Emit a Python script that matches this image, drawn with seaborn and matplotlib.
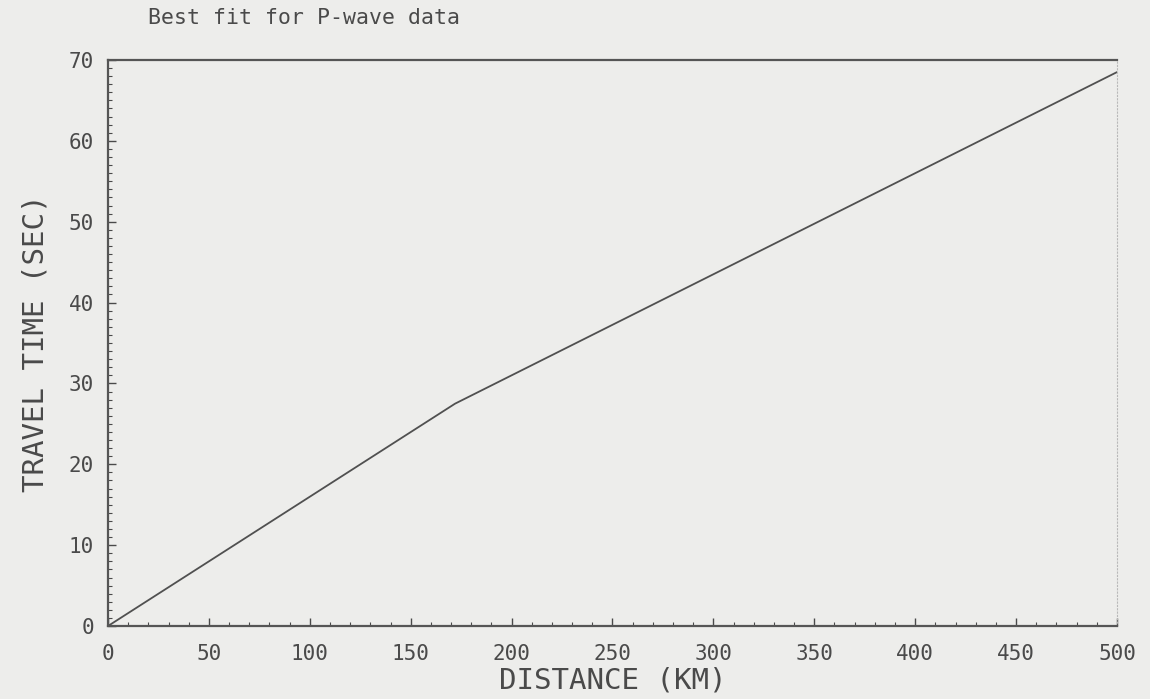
import matplotlib
matplotlib.use("Agg")
import matplotlib.pyplot as plt
import seaborn as sns
import pandas as pd
from matplotlib.ticker import MultipleLocator

distance_km = [0, 172, 500]
travel_time_sec = [0, 27.5, 68.5]
x_ticks = [0, 50, 100, 150, 200, 250, 300, 350, 400, 450, 500]
y_ticks = [0, 10, 20, 30, 40, 50, 60, 70]

sns.set_theme(style="white")
plt.rcParams['font.family'] = ['DejaVu Sans Mono', 'DejaVu Sans']

bg = "#ededeb"
ink = "#4a4a4a"

fig = plt.figure(figsize=(11.5, 6.99), dpi=100, facecolor=bg)
ax = fig.add_axes([0.0939, 0.1044, 0.8774, 0.8098])
ax.set_facecolor(bg)

df = pd.DataFrame({"d": distance_km, "t": travel_time_sec})
sns.lineplot(data=df, x="d", y="t", ax=ax, color="#505050", linewidth=1.3)

ax.set_xlim(0, 500)
ax.set_ylim(0, 70)
ax.set_xticks(x_ticks)
ax.set_yticks(y_ticks)
ax.set_xticklabels([str(v) for v in x_ticks])
ax.set_yticklabels([str(v) for v in y_ticks])
ax.xaxis.set_minor_locator(MultipleLocator(10))
ax.yaxis.set_minor_locator(MultipleLocator(1))
ax.tick_params(axis="both", which="major", direction="in", length=6, width=1,
               color=ink, labelcolor=ink, labelsize=15)
ax.tick_params(axis="x", which="major", pad=13)
ax.tick_params(axis="y", which="major", pad=10)
ax.tick_params(axis="both", which="minor", direction="in", length=3, width=0.8, color=ink)
ax.tick_params(axis="x", bottom=True, which="both")
ax.tick_params(axis="y", left=True, which="both")

for s in ["bottom", "left", "top"]:
    ax.spines[s].set_color("#555555")
    ax.spines[s].set_linewidth(1.6)
ax.spines["right"].set_color("#b8b8b8")
ax.spines["right"].set_linewidth(0.8)
ax.spines["right"].set_linestyle((0, (1, 2)))

ax.set_xlabel("DISTANCE (KM)", fontsize=21, color=ink, labelpad=2)
ax.set_ylabel("TRAVEL TIME (SEC)", fontsize=21, color=ink, labelpad=14)
fig.text(0.129, 0.974, "Best fit for P-wave data", fontsize=15.5, color=ink, ha="left", va="center")

fig.savefig("out.png", dpi=100, facecolor=bg)
